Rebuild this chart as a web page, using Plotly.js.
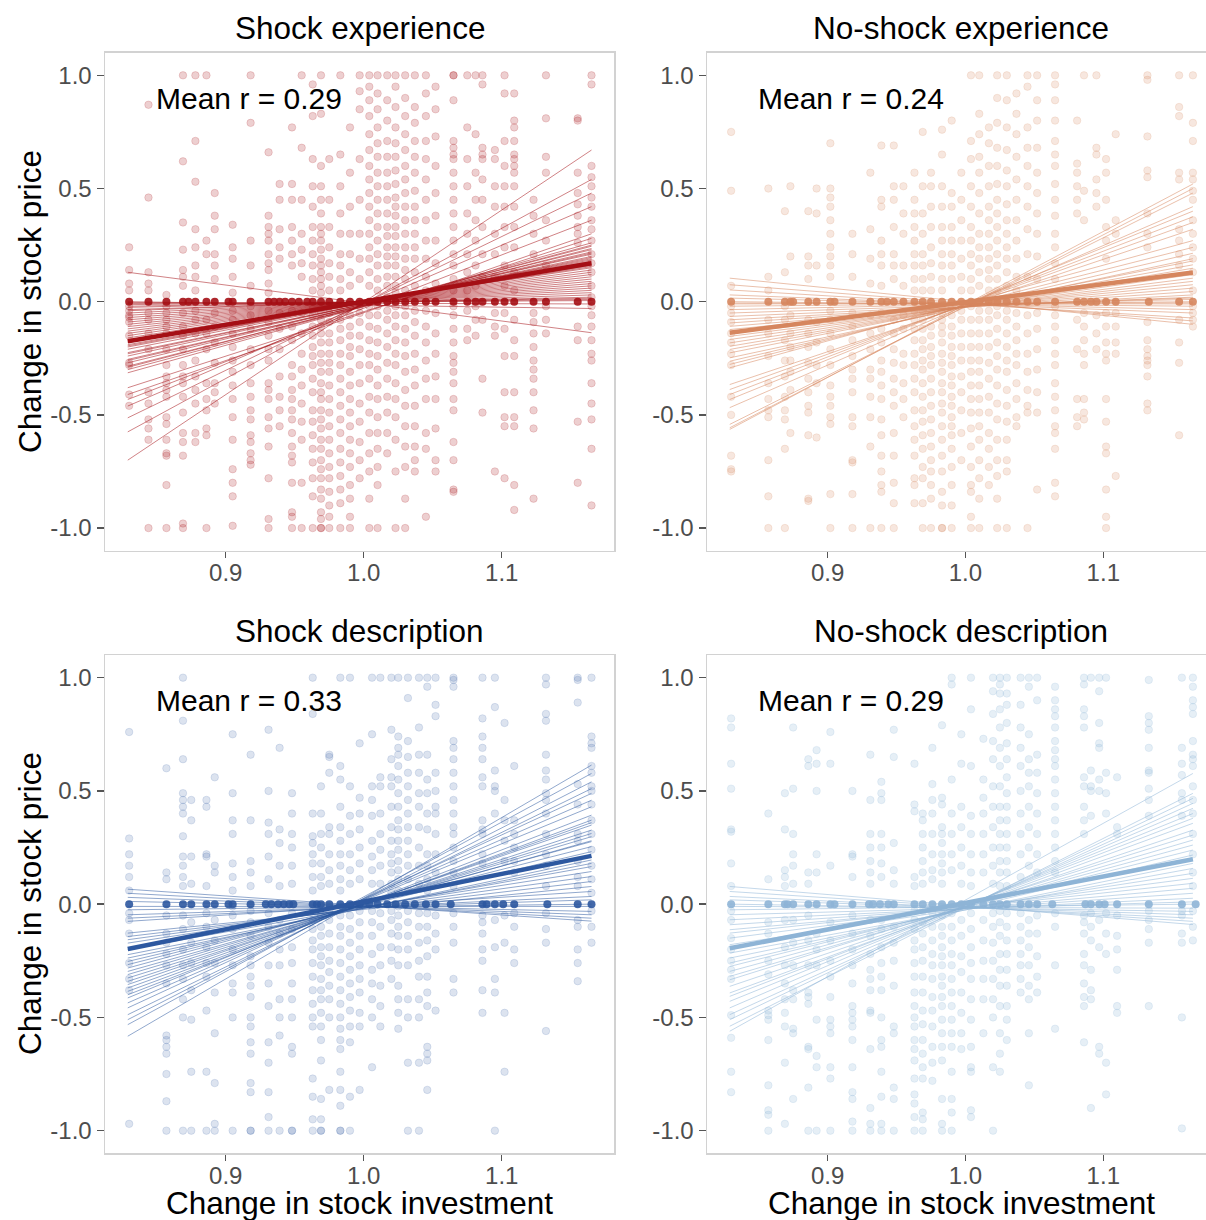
<!DOCTYPE html>
<html><head><meta charset="utf-8">
<script src="https://cdn.plot.ly/plotly-3.0.1.min.js"></script>
<style>html,body{margin:0;padding:0;background:#fff}#chart{width:1206px;height:1220px}</style>
</head><body><div id="chart"></div>
<script>
// ---------------- data ----------------
const panelTitles = ['Shock experience', 'No-shock experience', 'Shock description', 'No-shock description'];
const meanR = ['0.29', '0.24', '0.33', '0.29'];
const xTickVals = [0.9, 1.0, 1.1];
const xTickText = ['0.9', '1.0', '1.1'];
const yTickVals = [-1, -0.5, 0, 0.5, 1];
const yTickText = ['-1.0', '-0.5', '0.0', '0.5', '1.0'];
const lineX = [0.829, 1.165];

// Shock experience: stripe x positions and y values in each stripe
const seX = [0.830,0.844,0.857,0.869,0.878,0.886,0.892,0.905,0.918,0.931,0.939,0.948,0.955,0.963,0.969,0.975,0.983,0.990,0.997,1.004,1.010,1.017,1.023,1.030,1.037,1.045,1.052,1.065,1.075,1.081,1.086,1.095,1.102,1.109,1.123,1.132,1.155,1.165];
const seY = [
 [0.24,0.14,0.08,0.05,-0.02,-0.04,-0.06,-0.07,-0.09,-0.15,-0.27,-0.28,-0.41,-0.46],
 [0.87,0.46,0.13,0.08,0.05,-0.05,-0.08,-0.14,-0.21,-0.40,-0.45,-0.52,-0.56,-0.61,-1.0],
 [0.03,-0.02,-0.05,-0.08,-0.11,-0.14,-0.21,-0.28,-0.33,-0.36,-0.39,-0.42,-0.51,-0.54,-0.61,-0.67,-0.68,-0.81,-1.0],
 [1.0,0.62,0.35,0.23,0.14,0.11,0.07,-0.05,-0.11,-0.15,-0.21,-0.28,-0.33,-0.36,-0.42,-0.49,-0.58,-0.62,-0.68,-0.98,-1.0],
 [1.0,0.71,0.53,0.32,0.24,0.16,0.11,0.05,-0.04,-0.08,-0.14,-0.26,-0.33,-0.39,-0.45,-0.58,-0.62],
 [1.0,0.27,0.21,-0.08,-0.14,-0.21,-0.36,-0.43,-0.48,-0.56,-0.59,-1.0],
 [0.48,0.38,0.32,0.21,0.16,0.10,-0.05,-0.11,-0.18,-0.27,-0.36,-0.40,-0.45],
 [0.34,0.24,0.19,0.11,0.04,-0.04,-0.08,-0.14,-0.20,-0.26,-0.31,-0.37,-0.43,-0.51,-0.61,-0.74,-0.80,-0.86,-0.99],
 [1.0,0.79,0.27,0.16,0.07,-0.02,-0.06,-0.12,-0.21,-0.28,-0.36,-0.42,-0.48,-0.52,-0.59,-0.62,-0.67,-0.70,-0.72],
 [0.66,0.38,0.33,0.30,0.27,0.21,0.17,0.14,0.08,0.04,-0.04,-0.09,-0.15,-0.21,-0.26,-0.36,-0.39,-0.43,-0.51,-0.56,-0.64,-0.78,-0.96,-1.0],
 [0.52,0.45,0.32,0.24,0.19,-0.05,-0.12,-0.21,-0.33,-0.42,-0.48,-0.55],
 [0.77,0.52,0.45,0.33,0.27,0.21,0.16,-0.04,-0.11,-0.17,-0.28,-0.33,-0.39,-0.43,-0.48,-0.52,-0.58,-0.64,-0.68,-0.71,-0.80,-0.93,-0.95,-1.0],
 [1.0,0.68,0.45,0.30,0.23,0.17,0.11,-0.05,-0.14,-0.23,-0.30,-0.37,-0.45,-0.53,-0.61,-0.80,-1.0],
 [0.96,0.82,0.63,0.51,0.42,0.33,0.27,0.21,0.16,0.10,0.05,-0.02,-0.06,-0.11,-0.15,-0.20,-0.24,-0.28,-0.34,-0.40,-0.48,-0.53,-0.59,-0.65,-0.71,-0.78,-0.86,-1.0],
 [1.0,0.83,0.60,0.51,0.45,0.39,0.33,0.30,0.27,0.23,0.19,0.16,0.13,0.10,0.07,0.04,-0.02,-0.05,-0.08,-0.11,-0.14,-0.18,-0.23,-0.27,-0.31,-0.36,-0.40,-0.43,-0.48,-0.52,-0.56,-0.61,-0.65,-0.70,-0.74,-0.78,-0.83,-0.87,-0.93,-0.96,-1.0,-1.0],
 [0.63,0.45,0.33,0.24,0.17,0.11,0.05,-0.02,-0.05,-0.09,-0.14,-0.18,-0.23,-0.27,-0.31,-0.37,-0.43,-0.49,-0.55,-0.61,-0.67,-0.73,-0.78,-0.84,-0.90,-0.95,-1.0],
 [1.0,0.65,0.51,0.39,0.30,0.21,0.16,0.10,0.05,-0.04,-0.08,-0.12,-0.17,-0.23,-0.28,-0.34,-0.40,-0.46,-0.52,-0.58,-0.65,-0.71,-0.77,-0.83,-0.89,-1.0],
 [0.77,0.57,0.42,0.30,0.21,0.13,0.07,-0.02,-0.06,-0.11,-0.15,-0.20,-0.24,-0.31,-0.37,-0.43,-0.49,-0.55,-0.61,-0.67,-0.73,-0.81,-0.87,-0.95,-1.0],
 [1.0,0.93,0.85,0.63,0.45,0.30,0.19,0.10,-0.02,-0.05,-0.09,-0.15,-0.21,-0.28,-0.36,-0.45,-0.53,-0.62,-0.70,-0.78],
 [1.0,0.95,0.89,0.82,0.74,0.67,0.60,0.54,0.48,0.42,0.36,0.30,0.24,0.19,0.13,0.07,-0.02,-0.06,-0.11,-0.17,-0.23,-0.28,-0.34,-0.42,-0.49,-0.58,-0.67,-0.75,-0.87,-1.0],
 [1.0,0.92,0.85,0.77,0.70,0.64,0.57,0.51,0.45,0.39,0.33,0.27,0.21,0.16,0.10,0.05,-0.02,-0.06,-0.12,-0.18,-0.24,-0.30,-0.37,-0.43,-0.51,-0.58,-0.65,-0.73,-0.81,-1.0],
 [1.0,0.89,0.80,0.71,0.64,0.57,0.51,0.45,0.39,0.33,0.29,0.24,0.20,0.16,0.11,0.07,0.02,-0.04,-0.08,-0.14,-0.20,-0.27,-0.34,-0.42,-0.49,-0.58,-0.67],
 [1.0,0.95,0.86,0.77,0.70,0.64,0.58,0.52,0.46,0.42,0.38,0.33,0.29,0.24,0.20,0.16,0.11,0.07,0.04,-0.02,-0.06,-0.11,-0.17,-0.23,-0.28,-0.36,-0.43,-0.51,-0.61,-0.75,-1.0],
 [1.0,0.90,0.82,0.74,0.67,0.60,0.54,0.48,0.42,0.36,0.30,0.24,0.19,0.14,0.10,0.05,-0.02,-0.06,-0.12,-0.18,-0.24,-0.31,-0.39,-0.46,-0.55,-0.64,-0.73,-0.87,-1.0],
 [1.0,0.86,0.79,0.71,0.64,0.57,0.49,0.42,0.36,0.30,0.24,0.19,0.13,0.07,-0.04,-0.09,-0.15,-0.23,-0.30,-0.37,-0.46,-0.55,-0.64,-0.70,-0.75],
 [1.0,0.92,0.82,0.71,0.63,0.54,0.45,0.36,0.27,0.19,0.11,0.05,-0.04,-0.11,-0.18,-0.26,-0.34,-0.43,-0.58,-0.65,-0.95],
 [0.95,0.85,0.73,0.60,0.48,0.38,0.27,0.17,0.08,-0.05,-0.14,-0.23,-0.33,-0.43,-0.56,-0.70,-0.75],
 [1.0,1.0,0.89,0.71,0.68,0.65,0.63,0.57,0.51,0.45,0.39,0.33,0.27,0.21,0.16,0.10,0.05,-0.02,-0.06,-0.12,-0.18,-0.24,-0.27,-0.31,-0.36,-0.43,-0.48,-0.62,-0.70,-0.83,-0.84],
 [1.0,0.77,0.63,0.51,0.39,0.30,0.21,0.13,0.05,-0.04,-0.12,-0.17],
 [1.0,0.74,0.57,0.45,0.36,0.27,0.16,0.07,-0.02,-0.08,-0.15],
 [1.0,0.96,0.68,0.65,0.63,0.54,0.45,0.33,0.21,0.11,-0.08,-0.34,-0.49],
 [0.67,0.63,0.51,0.42,0.30,0.21,0.11,-0.05,-0.11,-0.15,-0.75],
 [1.0,0.92,0.71,0.60,0.51,0.42,0.33,0.24,0.16,0.07,-0.05,-0.12,-0.24,-0.40,-0.51,-0.55,-0.78],
 [0.92,0.80,0.77,0.71,0.65,0.63,0.60,0.57,0.51,0.42,0.33,0.24,0.13,0.05,-0.08,-0.17,-0.24,-0.40,-0.51,-0.55,-0.81,-0.92],
 [0.45,0.38,0.30,0.21,-0.05,-0.09,-0.14,-0.20,-0.26,-0.30,-0.34,-0.40,-0.48,-0.56,-0.87],
 [1.0,0.81,0.64,0.57,0.36,0.27,0.16,-0.02,-0.08,-0.14],
 [0.81,0.80,0.57,0.48,0.43,0.38,0.33,0.30,0.26,-0.11,-0.17,-0.53,-0.80],
 [1.0,0.96,0.60,0.55,0.51,0.46,0.42,0.36,0.32,0.27,0.21,0.17,0.13,0.07,0.02,-0.02,-0.06,-0.11,-0.17,-0.23,-0.26,-0.36,-0.45,-0.52,-0.65,-0.90]
];
const seZeroX = [0.830,0.844,0.857,0.869,0.873,0.878,0.886,0.892,0.902,0.905,0.918,0.931,0.935,0.939,0.943,0.948,0.953,0.959,0.963,0.969,0.975,0.983,0.990,0.997,1.004,1.010,1.017,1.023,1.030,1.037,1.045,1.052,1.065,1.075,1.081,1.086,1.095,1.102,1.109,1.123,1.132,1.155,1.165];
const seLineL = [-0.70,-0.575,-0.513,-0.461,-0.432,-0.41,-0.38,-0.314,-0.30,-0.29,-0.285,-0.27,-0.26,-0.255,-0.24,-0.23,-0.225,-0.21,-0.20,-0.195,-0.19,-0.18,-0.175,-0.17,-0.16,-0.15,-0.14,-0.13,-0.12,-0.11,-0.10,-0.09,-0.08,-0.07,-0.06,-0.05,-0.04,-0.035,-0.025,-0.02,-0.013,-0.008,-0.004,0.0,0.13];
const seLineR = [0.67,0.54,0.48,0.42,0.36,0.30,0.28,0.26,0.25,0.245,0.235,0.23,0.22,0.215,0.21,0.20,0.195,0.19,0.185,0.18,0.175,0.17,0.165,0.16,0.155,0.15,0.14,0.13,0.12,0.11,0.10,0.09,0.08,0.07,0.06,0.05,0.04,0.03,0.02,0.015,0.01,0.005,-0.01,-0.03,-0.137];
const seMean = [-0.175, 0.17];

// No-shock experience
const neX = [0.830,0.857,0.869,0.873,0.886,0.892,0.902,0.918,0.931,0.939,0.948,0.955,0.963,0.969,0.975,0.983,0.990,0.997,1.004,1.010,1.017,1.023,1.030,1.037,1.045,1.052,1.065,1.081,1.086,1.095,1.102,1.109,1.132,1.155,1.165];
const neY = [
 [0.75,0.49,0.07,-0.02,-0.05,-0.09,-0.14,-0.18,-0.23,-0.28,-0.42,-0.50,-0.68,-0.74,-0.75],
 [0.50,0.11,0.05,-0.08,-0.14,-0.24,-0.36,-0.43,-0.48,-0.51,-0.70,-0.86,-1.0],
 [0.40,0.13,-0.02,-0.08,-0.17,-0.26,-0.33,-0.42,-0.48,-0.52,-0.65,-1.0],
 [0.51,0.20,-0.06,-0.14,-0.20,-0.26,-0.31,-0.39,-0.58],
 [0.40,0.20,0.16,0.10,-0.08,-0.14,-0.20,-0.27,-0.34,-0.40,-0.46,-0.49,-0.59,-0.87,-0.88],
 [0.50,0.39,0.16,-0.09,-0.18,-0.28,-0.36,-0.60],
 [0.70,0.50,0.46,0.42,0.36,0.30,0.24,0.20,0.16,0.11,-0.04,-0.08,-0.14,-0.21,-0.28,-0.37,-0.42,-0.46,-0.51,-0.54,-0.85,-1.0],
 [0.30,0.21,0.11,-0.05,-0.11,-0.17,-0.24,-0.30,-0.34,-0.40,-0.51,-0.55,-0.70,-0.71,-0.85,-1.0],
 [0.57,0.32,0.19,0.08,-0.06,-0.14,-0.21,-0.30,-0.34,-0.42,-0.51,-0.64,-1.0],
 [0.69,0.45,0.42,0.27,0.21,0.16,0.07,-0.05,-0.12,-0.18,-0.26,-0.31,-0.37,-0.43,-0.52,-0.59,-0.68,-0.75,-0.81,-0.84,-1.0],
 [0.69,0.51,0.45,0.33,0.21,0.16,0.10,-0.08,-0.14,-0.21,-0.27,-0.34,-0.40,-0.46,-0.58,-0.68,-0.80,-0.89,-1.0],
 [0.51,0.39,0.30,0.16,0.07,-0.06,-0.12,-0.23,-0.28,-0.36,-0.43,-0.51],
 [0.57,0.45,0.39,0.33,0.27,0.21,0.16,0.10,0.05,-0.04,-0.08,-0.12,-0.17,-0.23,-0.28,-0.34,-0.40,-0.48,-0.55,-0.61,-0.68,-0.78,-0.81,-0.89],
 [0.75,0.51,0.39,0.30,0.21,0.16,0.10,0.05,-0.04,-0.08,-0.12,-0.17,-0.21,-0.26,-0.30,-0.36,-0.42,-0.48,-0.53,-0.59,-0.65,-0.73,-0.78,-0.89,-1.0],
 [0.57,0.51,0.42,0.33,0.24,0.17,0.11,0.05,-0.02,-0.06,-0.11,-0.15,-0.20,-0.24,-0.28,-0.34,-0.40,-0.46,-0.52,-0.58,-0.64,-0.70,-0.75,-0.81,-0.87,-1.0],
 [0.76,0.65,0.51,0.42,0.33,0.27,0.21,0.16,0.10,0.05,-0.02,-0.05,-0.08,-0.11,-0.14,-0.18,-0.23,-0.27,-0.31,-0.36,-0.40,-0.45,-0.49,-0.55,-0.61,-0.68,-0.75,-0.84,-0.90,-1.0,-1.0],
 [0.80,0.48,0.42,0.33,0.27,0.21,0.16,0.10,-0.02,-0.06,-0.11,-0.15,-0.20,-0.24,-0.28,-0.33,-0.37,-0.42,-0.46,-0.51,-0.55,-0.59,-0.65,-0.73,-0.81,-0.90,-1.0],
 [0.57,0.45,0.36,0.27,0.19,0.11,0.05,-0.04,-0.08,-0.14,-0.20,-0.26,-0.33,-0.40,-0.48,-0.58,-0.70],
 [1.0,0.71,0.63,0.51,0.42,0.33,0.27,0.21,0.16,0.10,0.05,-0.02,-0.08,-0.14,-0.20,-0.26,-0.31,-0.37,-0.43,-0.49,-0.56,-0.64,-0.73,-0.81,-0.84,-0.95,-1.0],
 [1.0,0.83,0.74,0.64,0.57,0.48,0.39,0.30,0.24,0.19,0.13,0.07,-0.04,-0.08,-0.14,-0.20,-0.26,-0.31,-0.37,-0.43,-0.49,-0.55,-0.61,-0.70,-0.78,-0.87,-1.0],
 [0.77,0.70,0.60,0.51,0.42,0.36,0.30,0.24,0.19,0.14,0.10,0.05,-0.04,-0.08,-0.14,-0.20,-0.27,-0.34,-0.42,-0.49,-0.58,-0.65,-0.73,-0.81],
 [1.0,0.90,0.79,0.68,0.60,0.52,0.45,0.39,0.33,0.27,0.21,0.16,0.10,0.05,-0.02,-0.06,-0.12,-0.18,-0.24,-0.30,-0.37,-0.45,-0.52,-0.61,-0.70,-0.77,-0.87,-1.0],
 [1.0,0.89,0.77,0.67,0.58,0.51,0.43,0.36,0.30,0.24,0.19,0.13,0.07,-0.04,-0.08,-0.14,-0.20,-0.26,-0.31,-0.39,-0.46,-0.53,-0.61,-0.70,-0.75,-1.0],
 [0.92,0.83,0.74,0.64,0.54,0.45,0.36,0.27,0.19,0.11,0.05,-0.05,-0.11,-0.17,-0.23,-0.28,-0.36,-0.43,-0.51,-0.55],
 [1.0,0.95,0.77,0.68,0.60,0.51,0.42,0.32,0.21,0.11,-0.06,-0.14,-0.23,-0.31,-0.39,-0.46,-0.49,-1.0],
 [1.0,0.89,0.80,0.68,0.57,0.48,0.39,0.30,0.20,0.10,-0.05,-0.12,-0.21,-0.30,-0.40,-0.49,-0.83],
 [1.0,0.96,0.89,0.80,0.71,0.65,0.60,0.52,0.45,0.38,0.30,0.24,0.17,0.10,-0.02,-0.06,-0.11,-0.17,-0.23,-0.28,-0.36,-0.42,-0.48,-0.55,-0.58,-0.65,-0.80,-0.86],
 [0.80,0.61,0.57,0.51,0.45,0.39,-0.08,-0.21,-0.43,-0.51,-0.55],
 [1.0,0.49,0.36,-0.05,-0.11,-0.17,-0.23,-0.28,-0.43,-0.49,-0.52],
 [1.0,0.68,0.65,0.54,0.48,0.42,-0.06,-0.14,-0.21],
 [0.63,0.57,0.45,0.33,0.27,0.19,-0.05,-0.11,-0.18,-0.23,-0.26,-0.43,-0.53,-0.64,-0.67,-0.83,-0.95,-1.0],
 [0.74,0.36,0.30,-0.05,-0.11,-0.18,-0.23,-0.77],
 [1.0,0.98,0.73,0.58,0.55,0.39,0.30,0.24,-0.09,-0.17,-0.21,-0.24,-0.26,-0.28,-0.33,-0.45,-0.48],
 [1.0,0.86,0.82,0.57,0.54,0.32,0.27,0.21,0.16,-0.08,-0.18,-0.27,-0.59],
 [1.0,0.79,0.71,0.57,0.54,0.49,0.45,0.36,0.30,0.24,0.19,0.13,0.05,-0.02,-0.05,-0.08,-0.11]
];
const neZeroX = [0.830,0.857,0.869,0.873,0.875,0.886,0.892,0.902,0.905,0.918,0.931,0.939,0.943,0.948,0.955,0.963,0.969,0.975,0.983,0.990,0.997,1.004,1.010,1.017,1.023,1.030,1.037,1.045,1.052,1.065,1.081,1.086,1.091,1.095,1.102,1.109,1.133,1.155,1.165];
const neLineL = [-0.564,-0.557,-0.542,-0.468,-0.432,-0.41,-0.388,-0.366,-0.292,-0.277,-0.263,-0.248,-0.226,-0.211,-0.197,-0.182,-0.167,-0.153,-0.14,-0.123,-0.109,-0.094,-0.08,-0.065,-0.05,-0.035,-0.02,-0.01,-0.006,0.0,0.016,0.03,0.052,0.075,0.104];
const neLineR = [0.52,0.50,0.48,0.42,0.40,0.375,0.35,0.32,0.27,0.24,0.214,0.19,0.18,0.163,0.148,0.133,0.12,0.104,0.09,0.075,0.06,0.045,0.03,0.02,0.016,0.01,0.0,-0.005,-0.01,-0.02,-0.035,-0.05,-0.072,-0.085,-0.10];
const neMean = [-0.137, 0.129];

// Shock description
const sdX = [0.830,0.857,0.869,0.875,0.886,0.892,0.905,0.918,0.931,0.939,0.948,0.963,0.969,0.975,0.983,0.990,0.997,1.006,1.012,1.020,1.025,1.032,1.040,1.046,1.052,1.065,1.086,1.095,1.102,1.109,1.132,1.155,1.165];
const sdY = [
 [0.76,0.29,0.22,0.17,0.12,0.06,-0.04,-0.07,-0.13,-0.26,-0.33,-0.38,-0.97],
 [0.60,0.14,0.11,-0.05,-0.13,-0.17,-0.22,-0.27,-0.35,-0.58,-0.60,-0.63,-0.66,-0.75,-0.87,-1.0],
 [1.0,0.81,0.64,0.49,0.46,0.43,0.40,0.30,0.21,0.17,0.12,0.08,-0.05,-0.11,-0.20,-0.27,-0.33,-0.42,-0.50,-1.0],
 [0.46,0.37,0.21,0.09,-0.08,-0.17,-0.26,-0.38,-0.51,-0.74,-1.0],
 [0.46,0.43,0.22,0.21,0.08,-0.04,-0.10,-0.19,-0.26,-0.32,-0.47,-0.74,-1.0],
 [0.56,0.17,0.14,-0.07,-0.16,-0.26,-0.39,-0.57,-0.79,-0.97,-1.0],
 [0.75,0.49,0.37,0.31,0.18,0.12,0.06,-0.01,-0.05,-0.11,-0.20,-0.27,-0.35,-0.39,-0.50,-1.0],
 [0.66,0.37,0.19,0.14,0.08,-0.03,-0.08,-0.14,-0.23,-0.27,-0.32,-0.36,-0.41,-0.50,-0.54,-0.61,-0.66,-0.79,-0.83,-1.0,-1.0],
 [0.77,0.50,0.36,0.31,0.21,0.11,-0.04,-0.10,-0.17,-0.27,-0.35,-0.45,-0.61,-0.70,-0.83,-0.94,-1.0],
 [0.69,0.33,0.27,0.17,0.08,-0.07,-0.13,-0.20,-0.27,-0.42,-0.50,-0.58,-1.0],
 [0.49,0.40,0.31,0.25,0.17,0.09,-0.04,-0.11,-0.19,-0.26,-0.35,-0.42,-0.50,-0.63,-0.66,-1.0,-1.0],
 [1.0,0.84,0.40,0.30,0.27,0.22,0.18,0.12,0.06,-0.03,-0.07,-0.11,-0.16,-0.20,-0.26,-0.32,-0.38,-0.44,-0.50,-0.54,-0.77,-0.85,-0.95,-1.0],
 [0.52,0.40,0.31,0.25,0.18,0.12,0.08,-0.01,-0.05,-0.10,-0.14,-0.19,-0.23,-0.27,-0.33,-0.38,-0.42,-0.48,-0.54,-0.60,-0.69,-0.86,-0.95,-1.0,-1.0],
 [0.66,0.65,0.58,0.34,0.31,0.22,0.15,0.09,-0.03,-0.07,-0.13,-0.19,-0.25,-0.30,-0.36,-0.42,-0.50,-0.82],
 [1.0,0.61,0.55,0.43,0.34,0.28,0.22,0.17,0.11,0.06,-0.01,-0.05,-0.10,-0.14,-0.20,-0.26,-0.32,-0.38,-0.44,-0.50,-0.55,-0.60,-0.64,-0.74,-0.82,-0.89,-1.0,-1.0],
 [1.0,0.52,0.39,0.31,0.22,0.15,0.09,-0.01,-0.05,-0.11,-0.17,-0.23,-0.29,-0.35,-0.41,-0.47,-0.54,-0.61,-0.85,-1.0],
 [0.71,0.47,0.40,0.33,0.25,0.18,0.11,-0.03,-0.08,-0.14,-0.20,-0.27,-0.33,-0.39,-0.48,-0.54,-0.82],
 [1.0,0.75,0.52,0.46,0.39,0.28,0.21,0.15,0.09,-0.03,-0.08,-0.14,-0.22,-0.29,-0.35,-0.42,-0.50,-0.72],
 [1.0,0.56,0.52,0.40,0.31,0.24,0.17,0.09,-0.04,-0.10,-0.19,-0.27,-0.36,-0.45,-0.54],
 [1.0,0.77,0.64,0.56,0.52,0.43,0.34,0.28,0.22,0.18,0.14,0.09,0.05,-0.03,-0.07,-0.13,-0.19,-0.25,-0.33],
 [1.0,0.74,0.69,0.66,0.61,0.55,0.49,0.43,0.37,0.33,0.28,0.24,0.19,0.15,0.11,0.06,-0.01,-0.05,-0.10,-0.14,-0.20,-0.27,-0.36,-0.42,-0.48,-0.55],
 [1.0,0.91,0.72,0.65,0.58,0.52,0.46,0.40,0.34,0.28,0.22,0.17,0.11,0.06,-0.03,-0.08,-0.14,-0.20,-0.27,-0.42,-0.50,-0.70,-1.0],
 [1.0,0.78,0.66,0.58,0.49,0.43,0.34,0.25,0.17,0.09,-0.04,-0.10,-0.17,-0.25,-0.32,-0.42,-0.50,-0.70,-1.0],
 [1.0,0.96,0.66,0.55,0.49,0.40,0.33,0.22,0.17,0.11,0.06,-0.04,-0.10,-0.16,-0.23,-0.32,-0.39,-0.45,-0.63,-0.66,-0.69,-0.82],
 [1.0,0.88,0.83,0.58,0.50,0.43,0.40,0.31,0.22,0.14,-0.05,-0.13,-0.20,-0.47],
 [1.0,0.99,0.96,0.72,0.69,0.64,0.58,0.52,0.46,0.40,0.34,0.31,0.25,0.19,0.14,0.08,-0.04,-0.10,-0.17,-0.33,-0.39],
 [1.0,0.82,0.74,0.69,0.64,0.56,0.52,0.37,0.33,0.31,0.22,0.18,-0.05,-0.08,-0.13,-0.20,-0.25,-0.38,-0.48],
 [1.0,0.87,0.59,0.52,0.50,0.40,-0.07,-0.19,-0.33,-0.39,-1.0],
 [0.80,0.46,0.37,0.28,0.19,-0.05,-0.17,-0.48,-0.74],
 [0.61,0.37,0.31,0.25,0.19,0.14,-0.04,-0.10,-0.20,-0.26],
 [1.0,0.97,0.84,0.81,0.66,0.59,0.55,0.49,0.46,0.40,0.31,0.22,0.17,0.08,-0.04,-0.11,-0.17,-0.56],
 [1.0,0.99,0.89,0.53,0.44,0.31,0.28,0.19,0.12,0.08,-0.07,-0.10,-0.20,-0.26,-0.34],
 [1.0,0.74,0.71,0.69,0.61,0.58,0.52,0.50,0.44,0.37,0.31,0.24,0.17,0.11,0.05,-0.03,-0.10,-0.17]
];
const sdZeroX = [0.830,0.857,0.869,0.875,0.886,0.892,0.902,0.905,0.918,0.929,0.933,0.938,0.942,0.946,0.949,0.963,0.966,0.969,0.975,0.983,0.990,0.997,1.004,1.010,1.017,1.023,1.030,1.037,1.045,1.052,1.063,1.086,1.089,1.095,1.101,1.109,1.133,1.155,1.165];
const sdLineL = [-0.583,-0.532,-0.51,-0.488,-0.458,-0.436,-0.414,-0.40,-0.385,-0.37,-0.355,-0.341,-0.326,-0.311,-0.297,-0.282,-0.267,-0.253,-0.238,-0.223,-0.20,-0.172,-0.157,-0.143,-0.128,-0.076,-0.062,-0.047,-0.025,-0.01,0.012,0.03,0.048,0.066];
const sdLineR = [0.614,0.577,0.54,0.51,0.489,0.459,0.43,0.393,0.371,0.36,0.349,0.327,0.312,0.298,0.28,0.276,0.254,0.232,0.195,0.18,0.166,0.144,0.122,0.10,0.078,0.056,0.034,0.019,0.0,-0.01,-0.032,-0.047,-0.062,-0.075];
const sdMean = [-0.198, 0.213];

// No-shock description
const ndX = [0.830,0.857,0.869,0.875,0.886,0.892,0.902,0.918,0.931,0.939,0.948,0.963,0.969,0.976,0.983,0.990,0.997,1.004,1.013,1.020,1.025,1.030,1.040,1.046,1.052,1.065,1.086,1.091,1.097,1.102,1.110,1.133,1.157,1.165];
const ndY = [
 [0.82,0.78,0.62,0.51,0.33,0.32,0.18,0.08,-0.03,-0.07,-0.15,-0.20,-0.25,-0.29,-0.33,-0.49,-0.59,-0.74,-0.83],
 [0.40,0.11,-0.08,-0.13,-0.25,-0.31,-0.47,-0.49,-0.51,-0.60,-0.80,-0.91,-0.93,-1.0],
 [0.49,0.33,0.15,0.12,0.08,-0.07,-0.19,-0.27,-0.35,-0.42,-0.48,-0.54,-0.70,-0.97],
 [0.78,0.51,0.31,0.22,0.17,0.09,-0.07,-0.17,-0.27,-0.38,-0.42,-0.55,-0.57,-0.86],
 [0.64,0.61,0.14,0.09,-0.05,-0.16,-0.27,-0.39,-0.41,-0.44,-0.63,-0.64,-0.81,-1.0],
 [0.68,0.62,0.50,0.22,0.14,-0.13,-0.20,-0.27,-0.51,-0.67,-0.72,-1.0],
 [0.76,0.62,0.17,-0.08,-0.16,-0.25,-0.32,-0.41,-0.51,-0.54,-0.57,-0.72,-0.77,-1.0],
 [0.50,0.22,0.21,0.12,-0.05,-0.13,-0.20,-0.27,-0.35,-0.45,-0.48,-0.51,-0.54,-0.60,-0.72,-0.83,-0.86,-0.96,-1.0],
 [0.66,0.46,0.31,0.25,0.19,0.14,0.09,-0.07,-0.14,-0.22,-0.29,-0.33,-0.38,-0.47,-0.48,-0.64,-0.90,-0.97,-1.0],
 [0.54,0.49,0.46,0.31,0.25,0.18,0.12,-0.07,-0.11,-0.19,-0.26,-0.32,-0.38,-0.50,-0.60,-0.63,-0.74,-0.85,-0.97,-1.0],
 [0.77,0.65,0.27,0.15,0.09,-0.10,-0.17,-0.25,-0.36,-0.54,-0.57,-0.81,-0.86,-1.0],
 [0.62,0.44,0.41,0.12,0.08,-0.03,-0.07,-0.11,-0.16,-0.20,-0.26,-0.32,-0.39,-0.45,-0.50,-0.54,-0.60,-0.64,-0.69,-0.77,-0.84,-0.88,-0.94,-1.0],
 [0.40,0.37,0.31,0.25,0.19,0.14,0.09,-0.03,-0.08,-0.13,-0.19,-0.25,-0.32,-0.39,-0.47,-0.53,-0.60,-0.66,-0.72,-0.77,-0.92,-0.95,-1.0],
 [0.69,0.53,0.46,0.40,0.31,0.22,0.15,0.11,-0.04,-0.10,-0.16,-0.22,-0.27,-0.33,-0.41,-0.47,-0.54,-0.63,-0.70,-0.78],
 [0.79,0.47,0.44,0.34,0.31,0.27,0.22,0.18,0.14,0.09,-0.01,-0.05,-0.10,-0.14,-0.19,-0.23,-0.27,-0.32,-0.36,-0.41,-0.45,-0.51,-0.57,-0.63,-0.69,-0.86,-0.97,-1.0],
 [1.0,0.97,0.55,0.40,0.31,0.22,0.15,-0.04,-0.10,-0.16,-0.22,-0.27,-0.33,-0.39,-0.45,-0.51,-0.57,-0.63,-0.74,-0.86,-0.92,-1.0],
 [0.75,0.62,0.43,0.34,0.25,0.17,0.09,-0.07,-0.14,-0.23,-0.30,-0.39,-0.48,-0.57,-0.64],
 [1.0,0.86,0.61,0.39,0.31,0.22,0.14,0.08,-0.04,-0.11,-0.19,-0.26,-0.33,-0.42,-0.51,-0.63,-0.72,-0.74,-0.91,-0.94],
 [0.73,0.55,0.47,0.40,0.31,0.22,0.14,-0.07,-0.16,-0.25,-0.33,-0.42,-0.57],
 [1.0,0.94,0.84,0.72,0.64,0.52,0.43,0.34,0.25,0.17,0.09,-0.04,-0.10,-0.17,-0.25,-0.33,-0.42,-0.50,-0.72,-1.0],
 [1.0,0.97,0.93,0.86,0.78,0.69,0.61,0.52,0.43,0.37,0.31,0.25,0.19,0.14,0.08,-0.03,-0.08,-0.14,-0.22,-0.29,-0.36,-0.45,-0.57,-0.66,-0.74],
 [1.0,0.93,0.88,0.80,0.71,0.64,0.56,0.49,0.43,0.37,0.31,0.25,0.19,0.14,0.08,-0.04,-0.10,-0.16,-0.22,-0.29,-0.36,-0.45,-0.51,-0.60],
 [1.0,0.88,0.78,0.69,0.61,0.50,0.40,0.31,0.22,0.12,-0.04,-0.10,-0.16,-0.22,-0.27,-0.33,-0.39],
 [1.0,0.96,0.75,0.64,0.58,0.52,0.43,0.34,0.25,0.17,-0.07,-0.13,-0.19,-0.27,-0.36,-0.42,-0.57,-0.80],
 [1.0,0.90,0.66,0.58,0.49,0.40,0.31,0.22,0.14,-0.05,-0.13,-0.23,-0.32,-0.39],
 [0.96,0.90,0.86,0.83,0.78,0.72,0.68,0.64,0.61,0.55,0.49,0.43,0.37,0.31,0.25,0.19,0.14,-0.04,-0.10,-0.27,-0.55],
 [1.0,0.97,0.86,0.83,0.78,0.56,0.52,0.43,0.37,0.31,-0.05,-0.08,-0.13,-0.22,-0.27,-0.35,-0.41,-0.45,-0.61],
 [1.0,0.59,0.52,0.50,0.39,-0.04,-0.10,-0.16,-0.29,-0.38,-0.42,-0.90],
 [1.0,0.94,0.80,0.71,0.69,0.55,0.50,-0.07,-0.19,-0.63,-0.66],
 [1.0,0.58,0.49,0.40,-0.04,-0.13,-0.22,-0.70,-0.84],
 [0.56,0.34,0.31,-0.05,-0.14,-0.20,-0.29,-0.45,-0.48],
 [0.99,0.83,0.80,0.77,0.69,0.59,0.58,0.51,0.46,0.39,-0.03,-0.07,-0.11,-0.17,-0.45],
 [1.0,0.69,0.62,0.57,0.49,0.46,0.39,-0.03,-0.05,-0.13,-0.17,-0.50,-0.99],
 [1.0,0.96,0.90,0.87,0.84,0.72,0.66,0.64,0.61,0.52,0.46,0.40,0.31,0.22,0.14,0.08,-0.03,-0.10,-0.16]
];
const ndZeroX = [0.830,0.857,0.869,0.871,0.875,0.886,0.892,0.902,0.905,0.918,0.930,0.933,0.938,0.944,0.948,0.963,0.969,0.976,0.983,0.990,0.997,1.004,1.013,1.020,1.025,1.030,1.040,1.046,1.052,1.063,1.087,1.091,1.097,1.101,1.110,1.133,1.157,1.167];
const ndLineL = [-0.561,-0.539,-0.51,-0.488,-0.458,-0.429,-0.407,-0.392,-0.363,-0.334,-0.319,-0.297,-0.275,-0.26,-0.238,-0.216,-0.179,-0.15,-0.128,-0.113,-0.091,-0.069,-0.047,-0.025,-0.01,0.0,0.019,0.034,0.056,0.078];
const ndLineR = [0.577,0.489,0.467,0.445,0.423,0.40,0.379,0.357,0.327,0.305,0.283,0.261,0.239,0.217,0.18,0.158,0.136,0.114,0.092,0.07,0.048,0.026,0.01,0.0,-0.018,-0.032,-0.047,-0.062,-0.076,-0.09];
const ndMean = [-0.195, 0.198];

// ---------------- styling ----------------
const FONT = 'Liberation Sans, Arial, Helvetica, sans-serif';
const colors = [[165,15,21],[214,134,94],[45,88,160],[142,180,214]];
const pointAlpha = [0.2, 0.2, 0.17, 0.22];
const panels = [
  {sx: seX, sy: seY, zx: seZeroX, ll: seLineL, lr: seLineR, mean: seMean},
  {sx: neX, sy: neY, zx: neZeroX, ll: neLineL, lr: neLineR, mean: neMean},
  {sx: sdX, sy: sdY, zx: sdZeroX, ll: sdLineL, lr: sdLineR, mean: sdMean},
  {sx: ndX, sy: ndY, zx: ndZeroX, ll: ndLineL, lr: ndLineR, mean: ndMean}
];
const rgba = (c, a) => `rgba(${c[0]},${c[1]},${c[2]},${a})`;

const traces = [];
panels.forEach((p, i) => {
  const ax = i === 0 ? '' : String(i + 1);
  const xa = 'x' + ax, ya = 'y' + ax;
  const c = colors[i];
  const px = [], py = [];
  p.sx.forEach((xv, k) => p.sy[k].forEach(yv => { px.push(xv); py.push(yv); }));
  traces.push({type: 'scatter', mode: 'markers', x: px, y: py, xaxis: xa, yaxis: ya, hoverinfo: 'skip',
    marker: {size: 7.5, color: rgba(c, pointAlpha[i]), line: {color: rgba(c, pointAlpha[i] * 0.8), width: 1}}});
  traces.push({type: 'scatter', mode: 'markers', x: p.zx, y: p.zx.map(() => 0), xaxis: xa, yaxis: ya, hoverinfo: 'skip',
    marker: {size: 8, color: rgba(c, 0.9), line: {width: 0}}});
  const lx = [], ly = [];
  p.ll.forEach((l, k) => { lx.push(lineX[0], lineX[1], null); ly.push(l, p.lr[k], null); });
  traces.push({type: 'scatter', mode: 'lines', x: lx, y: ly, xaxis: xa, yaxis: ya, hoverinfo: 'skip',
    line: {color: rgba(c, 0.75), width: 0.7}});
  traces.push({type: 'scatter', mode: 'lines', x: lineX, y: p.mean, xaxis: xa, yaxis: ya, hoverinfo: 'skip',
    line: {color: rgba(c, 1), width: 4.5}});
});

const W = 1206, H = 1220;
const xDomL = [105 / W, 614 / W], xDomR = [707 / W, 1];
const yDomT = [(H - 550.7) / H, (H - 52.7) / H], yDomB = [(H - 1153.3) / H, (H - 655) / H];
const rangeL = [0.8125, 1.1813], rangeR = [0.8125, 1.1745];

function xAxis(dom, rng, anchor) {
  return {domain: dom, range: rng, anchor: anchor, tickvals: xTickVals, ticktext: xTickText,
    ticks: 'outside', ticklen: 6, tickwidth: 1.4, tickcolor: '#555555', ticklabelstandoff: -6,
    tickfont: {family: FONT, size: 24, color: '#4d4d4d'},
    showgrid: false, zeroline: false, showline: true, linecolor: '#d2d2d2', linewidth: 1.5, mirror: true, fixedrange: true};
}
function yAxis(dom, anchor, mirror) {
  return {domain: dom, range: [-1.1, 1.1], anchor: anchor, tickvals: yTickVals, ticktext: yTickText,
    ticks: 'outside', ticklen: 7, tickwidth: 1.4, tickcolor: '#555555',
    tickfont: {family: FONT, size: 24, color: '#4d4d4d'},
    showgrid: false, zeroline: false, showline: true, linecolor: '#d2d2d2', linewidth: 1.5, mirror: mirror, fixedrange: true};
}

const annotations = [];
const titleX = [359.5 / W, 961.5 / W, 359.5 / W, 961.5 / W];
const titleY = [(H - 28) / H, (H - 28) / H, (H - 631) / H, (H - 631) / H];
panelTitles.forEach((t, i) => {
  annotations.push({text: t, xref: 'paper', yref: 'paper', x: titleX[i], y: titleY[i], xanchor: 'center', yanchor: 'middle',
    showarrow: false, font: {family: FONT, size: 31.5, color: '#000000'}});
  const ax = i === 0 ? '' : String(i + 1);
  annotations.push({text: 'Mean r = ' + meanR[i], xref: 'x' + ax, yref: 'y' + ax, x: 0.917, y: 0.897, xanchor: 'center', yanchor: 'middle',
    showarrow: false, font: {family: FONT, size: 30, color: '#000000'}});
});
[302, 904].forEach(yc => annotations.push({text: 'Change in stock price', xref: 'paper', yref: 'paper', x: 30 / W, y: (H - yc) / H,
  xanchor: 'center', yanchor: 'middle', textangle: -90, showarrow: false, font: {family: FONT, size: 31.5, color: '#000000'}}));
[359.5, 961.5].forEach(xc => annotations.push({text: 'Change in stock investment', xref: 'paper', yref: 'paper', x: xc / W, y: (H - 1203) / H,
  xanchor: 'center', yanchor: 'middle', showarrow: false, font: {family: FONT, size: 31.5, color: '#000000'}}));

const layout = {
  width: W, height: H, margin: {l: 0, r: 0, t: 0, b: 0}, paper_bgcolor: '#ffffff', plot_bgcolor: '#ffffff',
  showlegend: false, font: {family: FONT},
  xaxis: xAxis(xDomL, rangeL, 'y'), yaxis: yAxis(yDomT, 'x', true),
  xaxis2: xAxis(xDomR, rangeR, 'y2'), yaxis2: yAxis(yDomT, 'x2', false),
  xaxis3: xAxis(xDomL, rangeL, 'y3'), yaxis3: yAxis(yDomB, 'x3', true),
  xaxis4: xAxis(xDomR, rangeR, 'y4'), yaxis4: yAxis(yDomB, 'x4', false),
  annotations: annotations
};
Plotly.newPlot('chart', traces, layout, {staticPlot: true, displayModeBar: false});
</script>
</body></html>
